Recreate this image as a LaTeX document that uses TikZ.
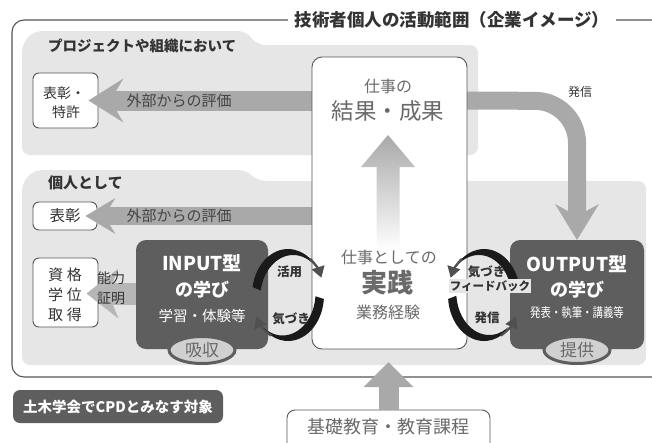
\documentclass[tikz,border=0pt]{standalone}
\usepackage{fontspec}
\setmainfont{Noto Sans CJK JP}
\usetikzlibrary{arrows.meta,calc,shapes.geometric}
\definecolor{panelc}{HTML}{E6E6E6}
\definecolor{arrowc}{HTML}{A9A9A9}
\definecolor{arrowl}{HTML}{B6B6B6}
\definecolor{darkc}{HTML}{5E5E5E}
\definecolor{framec}{HTML}{555555}
\definecolor{txtd}{HTML}{333333}
\definecolor{txtm}{HTML}{444444}
\definecolor{txtg}{HTML}{6A6A6A}
\definecolor{ellc}{HTML}{D0D0D0}
\definecolor{headc}{HTML}{505050}
\definecolor{arcc}{HTML}{1A1A1A}
\newcommand{\fsz}[1]{\fontsize{#1}{#1}\selectfont}
\tikzset{
  txt/.style={inner sep=0pt, font=\fsz{#1}},
  boldtxt/.style={inner sep=0pt, font=\bfseries\fsz{#1}},
  smallbox/.style={draw=framec, fill=white, rounded corners=6pt, line width=0.9pt, inner sep=0pt},
  darkbox/.style={fill=darkc, rounded corners=10pt, inner sep=0pt},
  tagell/.style={ellipse, fill=ellc, draw=darkc, line width=3pt, minimum width=66pt, minimum height=27pt, inner sep=0pt, text=txtg, font=\fsz{17}},
  arcbody/.style={fill=arcc},
  archead/.style={draw=headc, line width=2.2pt, -{Triangle[length=11pt,width=13pt]}},
}
\begin{document}
\begin{tikzpicture}[x=1pt,y=-1pt]
\useasboundingbox (0,0) rectangle (652,442);
\clip (0,0) rectangle (652,442);
% outer frame
\draw[framec, line width=1.1pt, rounded corners=12pt] (12,20) rectangle (690,377);
\node[fill=white, inner xsep=7pt, inner ysep=2pt, font=\bfseries\fsz{17.5}, text=txtd] (title) at (452,20) {技術者個人の活動範囲（企業イメージ）};
% panels
\fill[panelc, rounded corners=8pt] (22,155) -- (22,44) -- (34,31) -- (246,31) -- (257,45) -- (478,45) -- (478,155) -- cycle;
\fill[panelc, rounded corners=8pt] (22,365) -- (22,183) -- (34,170) -- (246,170) -- (258,181) -- (646,181) -- (646,365) -- cycle;
\node[boldtxt=14.5, text=txtd, anchor=west] (ptitle) at (48,46) {プロジェクトや組織において};
\node[boldtxt=15, text=txtd, anchor=west] (ititle) at (48,183) {個人として};
% small boxes
\node[smallbox, minimum width=65pt, minimum height=55pt] (sho1) at (65.5,100.5) {};
\node[smallbox, minimum width=64pt, minimum height=28pt] (sho2) at (65,216) {};
\node[smallbox, minimum width=65pt, minimum height=69pt] (shikaku) at (65.5,292.5) {};
% white work box (placed first as coordinate reference)
\path (389.5,203) coordinate (workc);
\coordinate (t1) at ($(sho1.east)+(-10,0)$);
\coordinate (t2) at ($(sho2.east)+(-12,0)$);
\coordinate (t3) at ($(shikaku.east)+(-12,1)$);
\coordinate (w1s) at (318,100.5);
\coordinate (w2s) at (318,216);
\coordinate (hs) at (460,100.5);
\draw[arrowc, line width=20pt, -{Stealth[length=35pt,width=44pt,inset=13pt,line width=0pt]}] (w1s) -- (t1);
\draw[arrowc, line width=18pt, -{Stealth[length=30pt,width=36pt,inset=11pt,line width=0pt]}] (w2s) -- (t2);
\draw[arrowl, line width=22pt, -{Stealth[length=32pt,width=50pt,inset=10pt,line width=0pt]}] (142,293.5) -- (t3);
% 発信 arrow
\coordinate (hc) at (577,101);
\coordinate (htip) at (577,240);
\draw[arrowc, line width=18pt, rounded corners=42pt, -{Stealth[length=36pt,width=44pt,inset=12pt,line width=0pt]}] (hs) -- (hc) -- (htip);
% white box
\node[draw=framec, fill=white, rounded corners=10pt, line width=0.9pt, minimum width=155pt, minimum height=292pt, inner sep=0pt] (work) at (workc) {};
\shade[top color=arrowc, bottom color=white] (388,135) -- (415,167) -- (399.5,167) -- (399.5,250) -- (376.5,250) -- (376.5,167) -- (361,167) -- cycle;
\node[txt=16, text=txtg] (wa) at (388,86) {仕事の};
\node[txt=22.5, text=txtg] (wb) at (388,111) {結果・成果};
\node[txt=16, text=txtg] (wc) at (389,257) {仕事としての};
\node[boldtxt=26, text=txtg] (wd) at (387,283) {実践};
\node[txt=16, text=txtg] (we) at (388,312) {業務経験};
% dark boxes
\node[darkbox, minimum width=132pt, minimum height=109pt] (inbox) at (202,294.5) {};
\node[darkbox, minimum width=134pt, minimum height=109pt] (outbox) at (577,294.5) {};
\node[tagell] (absorb) at (202,350) {吸収};
\node[tagell] (provide) at (577,350) {提供};
\node[boldtxt=19, text=white] (in1) at (202,263) {INPUT型};
\node[boldtxt=18, text=white] (in2) at (202,290) {の学び};
\node[txt=14.5, text=white] (in3) at (202,316) {学習・体験等};
\node[boldtxt=19, text=white] (out1) at (577,264) {OUTPUT型};
\node[boldtxt=18, text=white] (out2) at (577,290) {の学び};
\node[txt=13, text=white] (out3) at (577,313) {\scalebox{0.8}[1]{発表・執筆・講義等}};
% base box and arrow
\node[smallbox, rounded corners=8pt, minimum width=203pt, minimum height=44pt] (basebox) at (388.5,432) {};
\node[txt=18, text=txtg] (basetxt) at (388.5,427) {基礎教育・教育課程};
\coordinate (uptip) at (388.5,362);
\draw[arrowc, line width=20pt, -{Triangle[length=25pt,width=50pt,line width=0pt]}] (basebox.north) -- (uptip);
% CPD box
\node[darkbox, rounded corners=7pt, minimum width=210pt, minimum height=33pt, text=white, font=\bfseries\fsz{14.5}] (cpd) at (118,406.5) {土木学会でCPDとみなす対象};
% left cycle
\fill[arcbody] (288,295) ++(-170:36 and 46) arc[start angle=-170, end angle=-45, x radius=36, y radius=46] -- ($(293.2,298)+(-45:33 and 43)$) arc[start angle=-45, end angle=-170, x radius=33, y radius=43] -- cycle;
\draw[archead] (288,295) ++(-52:36 and 46) arc[start angle=-52, end angle=-22, x radius=36, y radius=46];
\fill[arcbody] (288,295) ++(5:36 and 46) arc[start angle=5, end angle=125, x radius=36, y radius=46] -- ($(282.6,292.5)+(125:33 and 43)$) arc[start angle=125, end angle=5, x radius=33, y radius=43] -- cycle;
\draw[archead] (288,295) ++(118:36 and 46) arc[start angle=118, end angle=152, x radius=36, y radius=46];
% right cycle
\fill[arcbody] (484,295) ++(-10:36 and 46) arc[start angle=-10, end angle=-135, x radius=36, y radius=46] -- ($(478.8,298)+(-135:33 and 43)$) arc[start angle=-135, end angle=-10, x radius=33, y radius=43] -- cycle;
\draw[archead] (484,295) ++(-128:36 and 46) arc[start angle=-128, end angle=-158, x radius=36, y radius=46];
\fill[arcbody] (484,295) ++(175:36 and 46) arc[start angle=175, end angle=55, x radius=36, y radius=46] -- ($(489.2,292)+(55:33 and 43)$) arc[start angle=55, end angle=175, x radius=33, y radius=43] -- cycle;
\draw[archead] (484,295) ++(62:36 and 46) arc[start angle=62, end angle=28, x radius=36, y radius=46];
% labels
\node[txt=14, text=txtd] (s1a) at (64,93) {表彰・};
\node[txt=14, text=txtd] (s1b) at (66,112) {特許};
\node[txt=15.5, text=txtd] (s2) at (65,216) {表彰};
\node[txt=15, text=txtd] (k1) at (65,275) {資\hspace{4pt}格};
\node[txt=15, text=txtd] (k2) at (65,295) {学\hspace{4pt}位};
\node[txt=15, text=txtd] (k3) at (65,315) {取\hspace{4pt}得};
\node[txt=15, text=txtm] (e1) at (179,101) {外部からの評価};
\node[txt=15, text=txtm] (e2) at (179,216) {外部からの評価};
\node[txt=14, text=txtd] (n1) at (111,278) {能力};
\node[txt=14, text=txtd] (n2) at (111,298) {証明};
\node[txt=12, text=txtd] (hl) at (580,92) {発信};
\node[boldtxt=12.5, text=txtd] (c1) at (289.5,272) {活用};
\node[boldtxt=12.5, text=txtd] (c2) at (291,319) {気づき};
\node[boldtxt=12.5, text=txtd] (c3) at (486.5,272) {気づき};
\node[boldtxt=11.5, text=txtd, fill=panelc, inner sep=1pt] (c4) at (490,286) {フィードバック};
\node[boldtxt=12.5, text=txtd] (c5) at (487,318) {発信};
\end{tikzpicture}
\end{document}
